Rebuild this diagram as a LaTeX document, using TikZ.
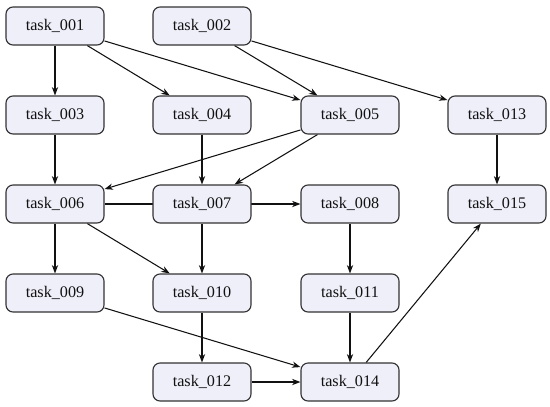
\documentclass[tikz,border=0pt]{standalone}
\usepackage{fontspec}
\setmainfont{Liberation Serif}
\usepackage{xcolor}
\usepackage{tikz}
\usetikzlibrary{arrows.meta,backgrounds}
\definecolor{cFill}{HTML}{EFEFFA}
\definecolor{cLine}{HTML}{333333}
\definecolor{cInk}{HTML}{111111}
\tikzset{
  taskbox/.style={draw=cLine,fill=cFill,rounded corners=5pt,line width=0.8pt,align=center,
    minimum width=2.45cm,minimum height=0.95cm,inner sep=3pt,text=cInk,font=\fontsize{11.5}{13}\selectfont},
  arr/.style={-{Stealth[length=6pt,width=4.5pt]},line width=0.75pt,color=cInk},
}
\begin{document}
\begin{tikzpicture}[x=1cm,y=1cm]
  \useasboundingbox (0,0) rectangle (13.75,-10.15);
  % tasks, placed on a grid of columns and rows
  \foreach \n/\x/\y in {001/1.375/0.65,002/5.05/0.65,
      003/1.375/2.875,004/5.05/2.875,005/8.75/2.875,013/12.425/2.875,
      006/1.375/5.1,007/5.05/5.1,008/8.75/5.1,015/12.425/5.1,
      009/1.375/7.325,010/5.05/7.325,011/8.75/7.325,
      012/5.05/9.55,014/8.75/9.55}
    {\node[taskbox] (t\n) at (\x,-\y) {task\_\n};}
  % dependencies, drawn behind the tasks
  \begin{scope}[on background layer]
    \foreach \a/\b in {001/003,001/004,001/005,002/005,002/013,
        003/006,004/007,005/006,005/007,006/008,013/015,
        006/009,006/010,007/010,008/011,
        009/014,010/012,011/014,012/014,014/015}
      {\draw[arr] (t\a) -- (t\b);}
  \end{scope}
\end{tikzpicture}
\end{document}
